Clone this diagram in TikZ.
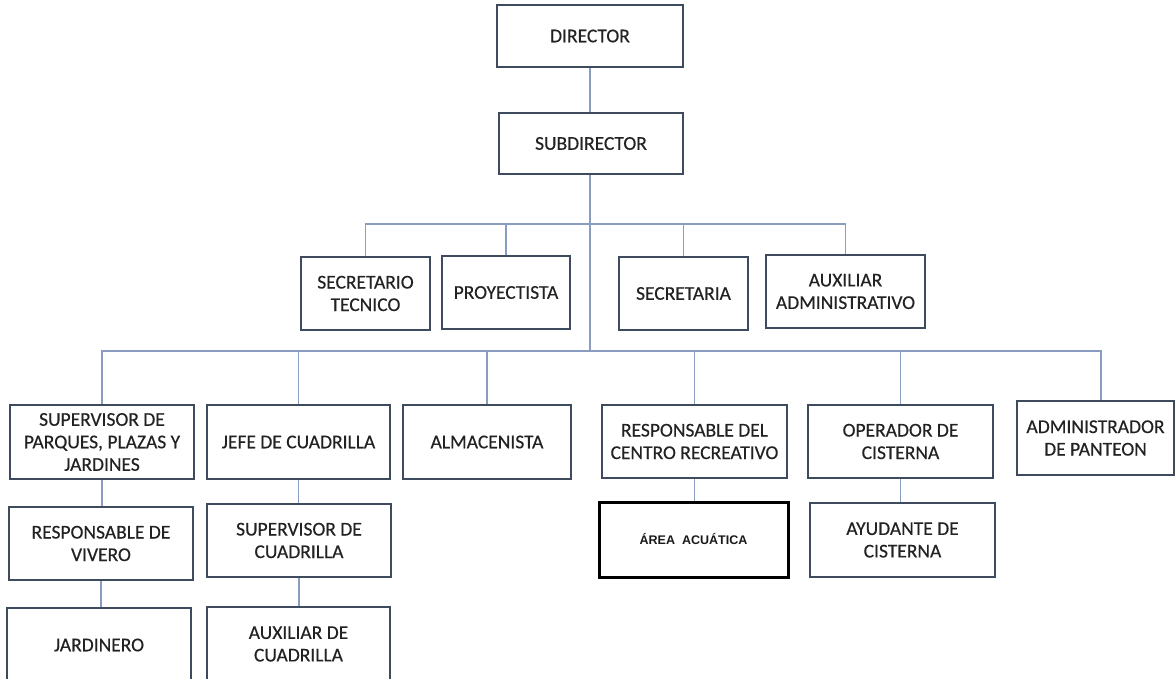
\documentclass[tikz,border=0pt]{standalone}
\usepackage{fontspec}
\setmainfont{Carlito}
\newfontfamily\boxfont{Carlito}[FakeBold=0.35]
\newfontfamily\arialfont{Liberation Sans}
\definecolor{boxc}{HTML}{3E4A5E}
\definecolor{linec}{HTML}{8A9CC0}
\definecolor{txt}{HTML}{222222}
\begin{document}
\begin{tikzpicture}[x=1pt,y=-1pt,
  box/.style={draw=boxc, line width=1.8pt, fill=white, text=txt, align=center, inner sep=0pt,
    font=\boxfont\fontsize{19.5}{22.5}\selectfont},
  conn/.style={draw=linec, line width=1.2pt}]
\path[use as bounding box, clip] (0,0) rectangle (1175,679);
\fill[white] (0,0) rectangle (1175,679);

% level 1-2
\node[box, minimum width=186pt, minimum height=62pt] (dir) at (590,36) {DIRECTOR};
\node[box, minimum width=184pt, minimum height=61pt] (sub) at (591,143.5) {SUBDIRECTOR};

% staff row
\node[box, minimum width=129pt, minimum height=73pt] (sectec) at (365.5,293.5) {SECRETARIO\\TECNICO};
\node[box, minimum width=128pt, minimum height=73pt] (proy) at (506,292.5) {PROYECTISTA};
\node[box, minimum width=129pt, minimum height=73pt] (secr) at (683.5,293.5) {SECRETARIA};
\node[box, minimum width=159pt, minimum height=73pt] (auxadm) at (845.5,291.5) {AUXILIAR\\ADMINISTRATIVO};

% main row
\node[box, minimum width=184pt, minimum height=74pt] (superv) at (102,442) {SUPERVISOR DE\\PARQUES, PLAZAS Y\\JARDINES};
\node[box, minimum width=183pt, minimum height=74pt] (jefe) at (298.5,442) {JEFE DE CUADRILLA};
\node[box, minimum width=168pt, minimum height=74pt] (alm) at (487,442) {ALMACENISTA};
\node[box, minimum width=185pt, minimum height=73pt] (resp) at (694.5,441.5) {RESPONSABLE DEL\\CENTRO RECREATIVO};
\node[box, minimum width=185pt, minimum height=73pt] (oper) at (900.5,441.5) {OPERADOR DE\\CISTERNA};
\node[box, minimum width=157pt, minimum height=74pt] (admin) at (1095.5,438) {ADMINISTRADOR\\DE PANTEON};

% sub rows
\node[box, minimum width=184pt, minimum height=73pt] (vivero) at (101,543.5) {RESPONSABLE DE\\VIVERO};
\node[box, minimum width=184pt, minimum height=73pt] (supcua) at (299,540.5) {SUPERVISOR DE\\CUADRILLA};
\node[box, draw=black, line width=3pt, minimum width=189pt, minimum height=75pt,
  font=\arialfont\bfseries\fontsize{12.5}{14}\selectfont, text=black!90] (area) at (693.5,539.5) {ÁREA\ \ ACUÁTICA};
\node[box, minimum width=185pt, minimum height=74pt] (ayud) at (902.5,540) {AYUDANTE DE\\CISTERNA};
\node[box, minimum width=184pt, minimum height=74pt] (jard) at (99,645) {JARDINERO};
\node[box, minimum width=183pt, minimum height=74pt] (auxcua) at (298.5,644) {AUXILIAR DE\\CUADRILLA};

% junctions
\coordinate (j1) at (590,224);
\coordinate (j2) at (590,351);
\coordinate (admtop) at ([xshift=5.5pt]admin.north);

% connectors
\draw[conn] (dir.south -| 590,0) -- (sub.north -| 590,0);
\draw[conn] (sub.south -| j2) -- (j2);
\draw[conn] (sectec.north) -- (sectec.north |- j1) -- (auxadm.north |- j1) -- (auxadm.north);
\draw[conn] (proy.north) -- (proy.north |- j1);
\draw[conn] (secr.north) -- (secr.north |- j1);
\draw[conn] (superv.north) -- (superv.north |- j2) -- (admtop |- j2) -- (admtop);
\draw[conn] (jefe.north) -- (jefe.north |- j2);
\draw[conn] (alm.north) -- (alm.north |- j2);
\draw[conn] (resp.north) -- (resp.north |- j2);
\draw[conn] (oper.north) -- (oper.north |- j2);
\draw[conn] (superv.south) -- (superv.south |- vivero.north);
\draw[conn] (vivero.south) -- (vivero.south |- jard.north);
\draw[conn] (jefe.south) -- (jefe.south |- supcua.north);
\draw[conn] (supcua.south) -- (supcua.south |- auxcua.north);
\draw[conn] (resp.south) -- (resp.south |- area.north);
\draw[conn] (oper.south) -- (oper.south |- ayud.north);
\end{tikzpicture}
\end{document}
